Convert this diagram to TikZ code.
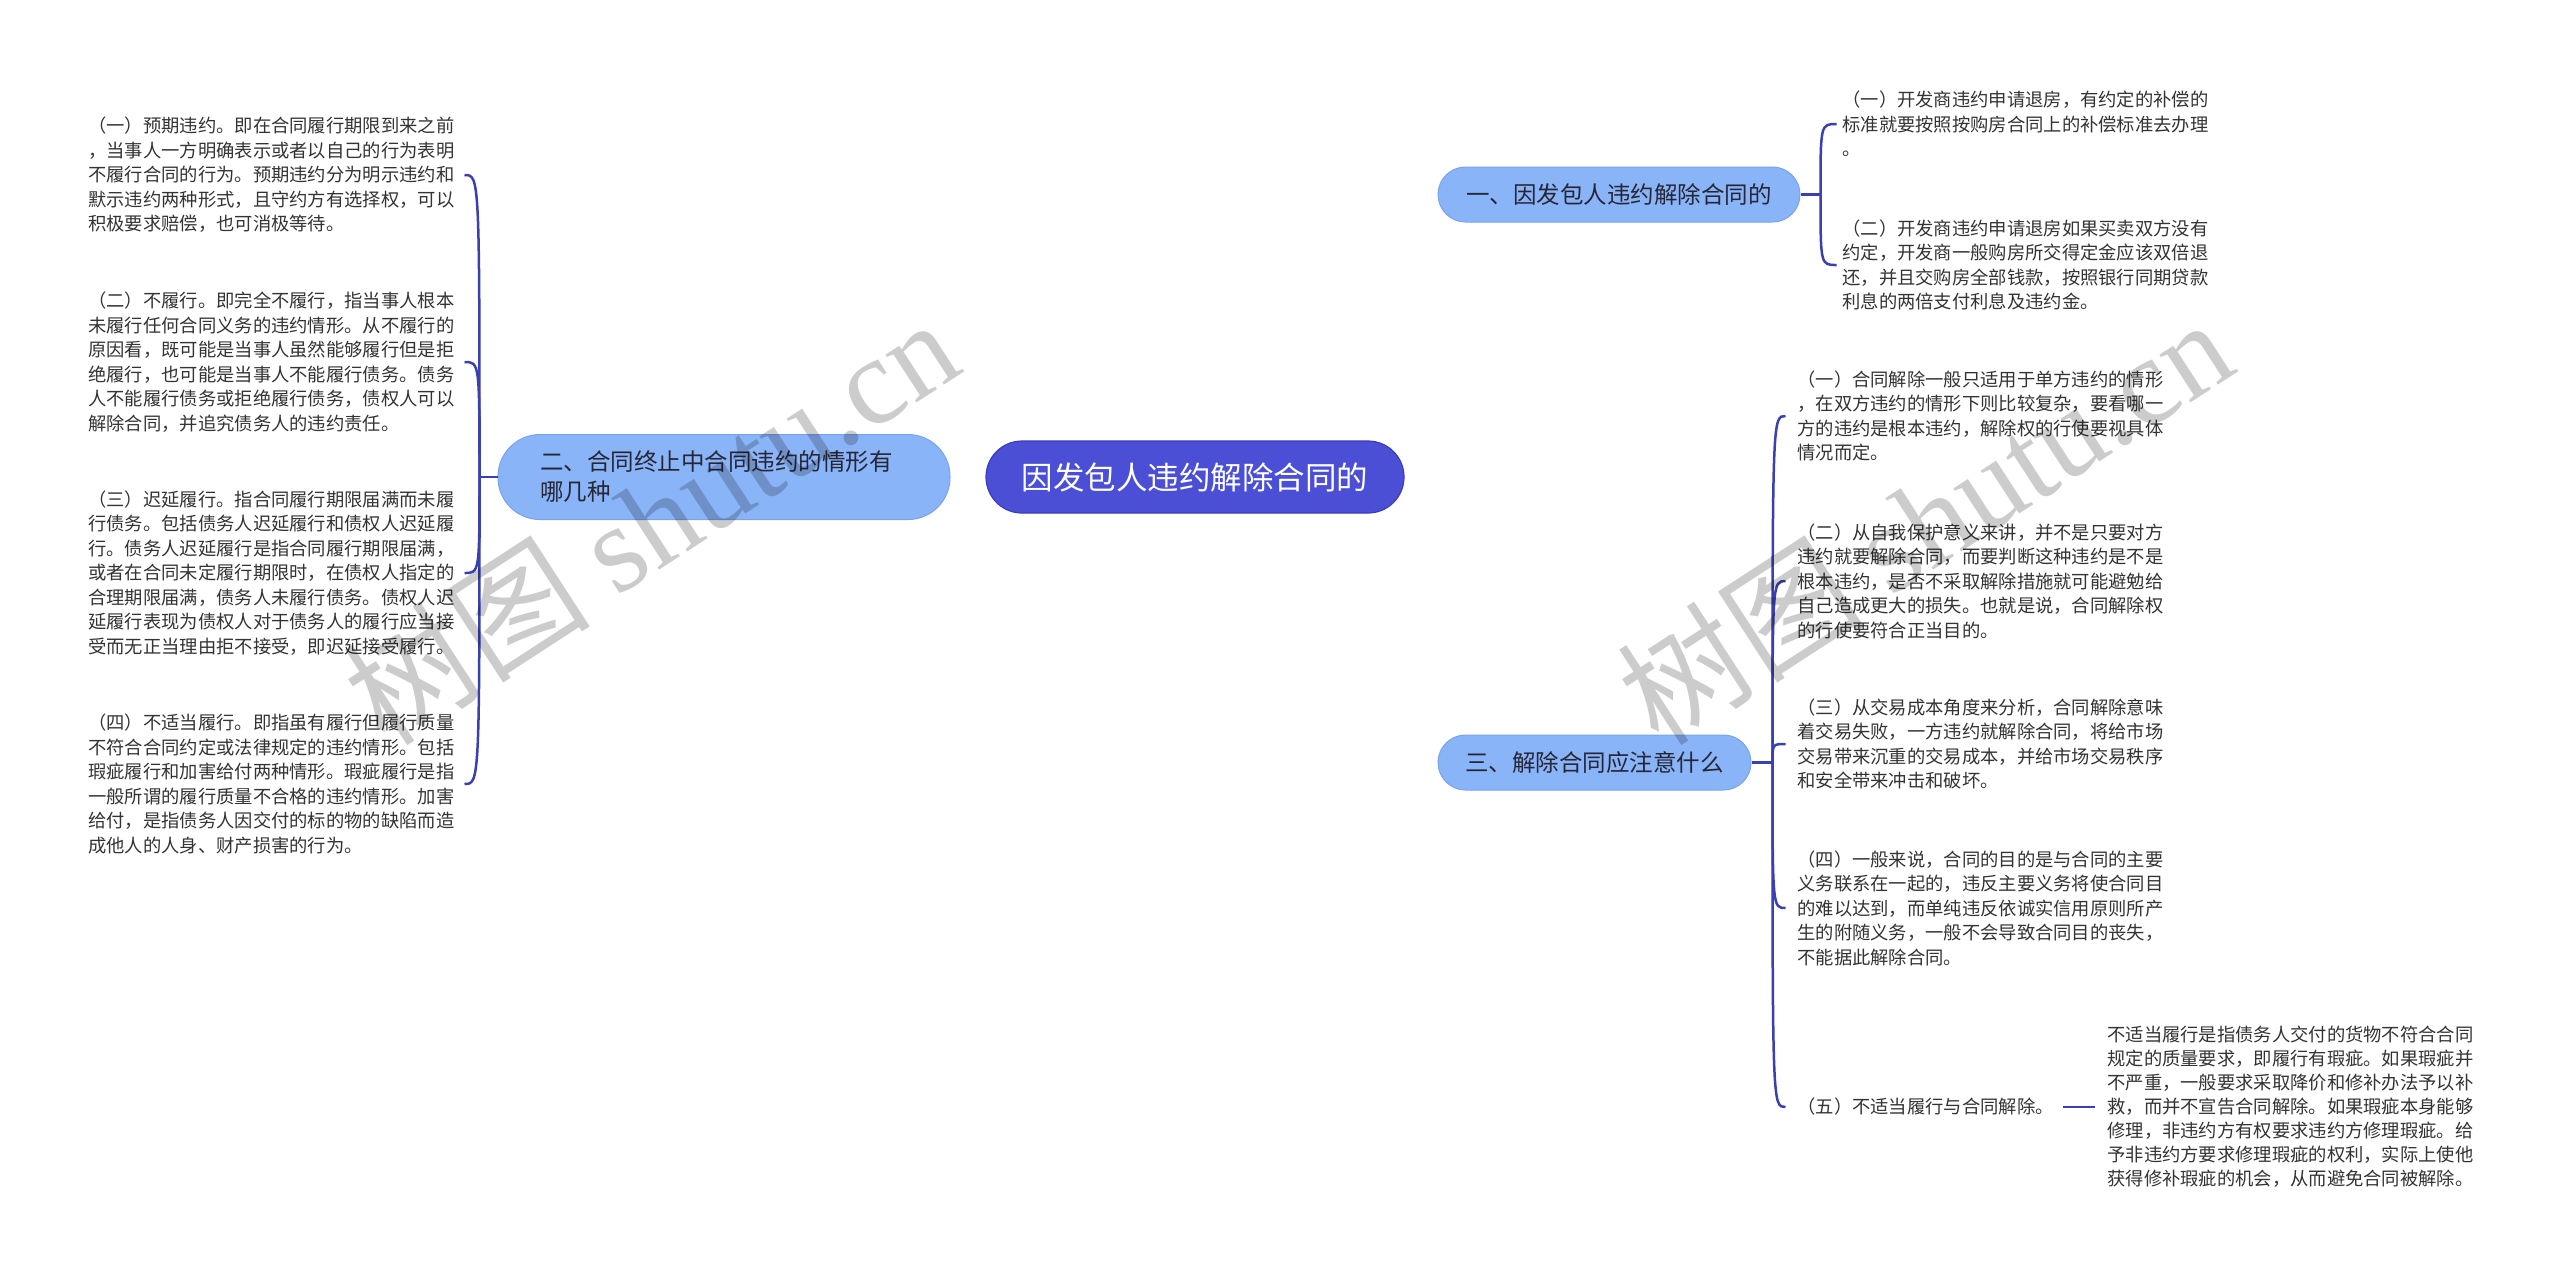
\documentclass[tikz,border=0pt]{standalone}
\usepackage{fontspec}
\setmainfont{Noto Sans CJK SC}
\newfontfamily\wmlatin{Liberation Serif}
\usetikzlibrary{backgrounds,calc}
\definecolor{rootfill}{HTML}{4A4FD6}
\definecolor{rootdraw}{HTML}{3A3EB8}
\definecolor{lvfill}{HTML}{8AB4F8}
\definecolor{lvdraw}{HTML}{7AA2EA}
\definecolor{linec}{HTML}{3B40B0}
\definecolor{txt}{HTML}{333333}
\definecolor{toptxt}{HTML}{262637}
\begin{document}
\begin{tikzpicture}[x=0.5pt,y=-0.5pt,
  rootnode/.style={rectangle, rounded corners=18pt, fill=rootfill, draw=rootdraw, line width=0.6pt,
    minimum width=209pt, minimum height=36pt, inner sep=0pt, text=white,
    font=\fontsize{15.75pt}{18pt}\selectfont},
  topic/.style={rectangle, rounded corners=13.75pt, fill=lvfill, draw=lvdraw, line width=0.5pt,
    minimum height=27.5pt, inner sep=0pt, text=toptxt,
    font=\fontsize{11.75pt}{15pt}\selectfont},
  leaf/.style={inner sep=0pt, anchor=west, align=left, text=txt,
    font=\fontsize{9.15pt}{12.25pt}\selectfont},
  conn/.style={draw=linec, line width=1.25pt},
  wmark/.style={rotate=33, text=black, text opacity=0.2, inner sep=0pt,
    font=\fontsize{62pt}{64pt}\selectfont},
]
\useasboundingbox (0,0) rectangle (2560,1276);
\fill[white] (0,0) rectangle (2560,1276);

% main nodes
\node[rootnode] (root) at (1195,477) {因发包人违约解除合同的};
\node[topic, minimum width=226pt, minimum height=42.5pt, rounded corners=21pt,
      inner xsep=21pt, inner ysep=0pt, align=left, text width=184pt] (t2) at (724,477)
      {二、合同终止中合同违约的情形有\\哪几种};
\node[topic, minimum width=181pt] (t1) at (1619,194.5) {一、因发包人违约解除合同的};
\node[topic, minimum width=156.5pt] (t3) at (1594.5,762.5) {三、解除合同应注意什么};

% left leaves
\node[leaf] (l1) at (88,175) {（一）预期违约。即在合同履行期限到来之前\\，当事人一方明确表示或者以自己的行为表明\\不履行合同的行为。预期违约分为明示违约和\\默示违约两种形式，且守约方有选择权，可以\\积极要求赔偿，也可消极等待。};
\node[leaf] (l2) at (88,362) {（二）不履行。即完全不履行，指当事人根本\\未履行任何合同义务的违约情形。从不履行的\\原因看，既可能是当事人虽然能够履行但是拒\\绝履行，也可能是当事人不能履行债务。债务\\人不能履行债务或拒绝履行债务，债权人可以\\解除合同，并追究债务人的违约责任。};
\node[leaf] (l3) at (88,573) {（三）迟延履行。指合同履行期限届满而未履\\行债务。包括债务人迟延履行和债权人迟延履\\行。债务人迟延履行是指合同履行期限届满，\\或者在合同未定履行期限时，在债权人指定的\\合理期限届满，债务人未履行债务。债权人迟\\延履行表现为债权人对于债务人的履行应当接\\受而无正当理由拒不接受，即迟延接受履行。};
\node[leaf] (l4) at (88,784) {（四）不适当履行。即指虽有履行但履行质量\\不符合合同约定或法律规定的违约情形。包括\\瑕疵履行和加害给付两种情形。瑕疵履行是指\\一般所谓的履行质量不合格的违约情形。加害\\给付，是指债务人因交付的标的物的缺陷而造\\成他人的人身、财产损害的行为。};

% right leaves of t1
\node[leaf] (r1) at (1842,124) {（一）开发商违约申请退房，有约定的补偿的\\标准就要按照按购房合同上的补偿标准去办理\\。};
\node[leaf] (r2) at (1842,265) {（二）开发商违约申请退房如果买卖双方没有\\约定，开发商一般购房所交得定金应该双倍退\\还，并且交购房全部钱款，按照银行同期贷款\\利息的两倍支付利息及违约金。};

% right leaves of t3
\node[leaf] (s1) at (1797,416) {（一）合同解除一般只适用于单方违约的情形\\，在双方违约的情形下则比较复杂，要看哪一\\方的违约是根本违约，解除权的行使要视具体\\情况而定。};
\node[leaf] (s2) at (1797,581) {（二）从自我保护意义来讲，并不是只要对方\\违约就要解除合同，而要判断这种违约是不是\\根本违约，是否不采取解除措施就可能避勉给\\自己造成更大的损失。也就是说，合同解除权\\的行使要符合正当目的。};
\node[leaf] (s3) at (1797,744) {（三）从交易成本角度来分析，合同解除意味\\着交易失败，一方违约就解除合同，将给市场\\交易带来沉重的交易成本，并给市场交易秩序\\和安全带来冲击和破坏。};
\node[leaf] (s4) at (1797,908) {（四）一般来说，合同的目的是与合同的主要\\义务联系在一起的，违反主要义务将使合同目\\的难以达到，而单纯违反依诚实信用原则所产\\生的附随义务，一般不会导致合同目的丧失，\\不能据此解除合同。};
\node[leaf] (s5) at (1797,1107) {（五）不适当履行与合同解除。};
\node[leaf, font=\fontsize{9.15pt}{12pt}\selectfont] (g5) at (2107,1107) {不适当履行是指债务人交付的货物不符合合同\\规定的质量要求，即履行有瑕疵。如果瑕疵并\\不严重，一般要求采取降价和修补办法予以补\\救，而并不宣告合同解除。如果瑕疵本身能够\\修理，非违约方有权要求违约方修理瑕疵。给\\予非违约方要求修理瑕疵的权利，实际上使他\\获得修补瑕疵的机会，从而避免合同被解除。};

% junctions
\coordinate (j2) at ([xshift=-9pt]t2.west);
\coordinate (j1) at ([xshift=10pt]t1.east);
\coordinate (j3) at ([xshift=10.5pt]t3.east);

\begin{pgfonlayer}{background}
  % root to topics
  \draw[conn] (root.center) .. controls (root.center |- t1.west) and ([xshift=27pt]root.center |- t1.west) .. (t1.west);
  \draw[conn] (root.center) .. controls (root.center |- t3.west) and ([xshift=27pt]root.center |- t3.west) .. (t3.west);
  \draw[conn] (root.west) -- (t2.east);
\end{pgfonlayer}

% left bracket
\draw[conn] (t2.west) -- (j2);
\foreach \n in {l1,l2,l3,l4}{
  \draw[conn] (j2) .. controls (j2 |- \n.east) .. ([xshift=-7.5pt]j2 |- \n.east);
}
% t1 bracket
\draw[conn] (t1.east) -- (j1);
\foreach \n in {r1,r2}{
  \draw[conn] (j1) .. controls (j1 |- \n.west) .. ([xshift=8pt]j1 |- \n.west);
}
% t3 bracket
\draw[conn] (t3.east) -- (j3);
\foreach \n in {s1,s2,s3,s4,s5}{
  \draw[conn] (j3) .. controls (j3 |- \n.west) .. ([xshift=6.5pt]j3 |- \n.west);
}
\draw[conn] ([xshift=4.5pt]s5.east) -- ([xshift=-6pt]g5.west);

% watermarks
\node[wmark] (wm1) at (650,520) {树图 {\wmlatin shutu.cn}};
\node[wmark] (wm2) at (1924,520) {树图 {\wmlatin shutu.cn}};
\end{tikzpicture}
\end{document}
